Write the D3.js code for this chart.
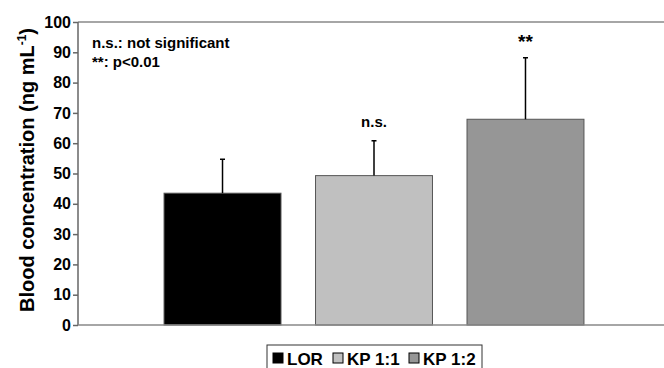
<!DOCTYPE html>
<html>
<head>
<meta charset="utf-8">
<script src="https://cdn.jsdelivr.net/npm/d3@7"></script>
<style>
  body { margin: 0; background: #fff; }
  text { font-family: Arial, "Liberation Sans", sans-serif; font-weight: bold; fill: #000; }
</style>
</head>
<body>
<svg id="chart" width="664" height="368"></svg>
<script>
const groups = ["LOR", "KP 1:1", "KP 1:2"];
const means = [43.5, 49.3, 67.9];
const errors = [11.2, 11.5, 20.3];
const marks = ["", "n.s.", "**"];
const fills = ["#000000", "#c0c0c0", "#969696"];
const yTicks = [0, 10, 20, 30, 40, 50, 60, 70, 80, 90, 100];

const data = groups.map((g, i) => ({name: g, mean: means[i], err: errors[i], mark: marks[i], fill: fills[i]}));

const svg = d3.select("#chart"),
      margin = {top: 22, left: 78},
      plotRight = 670,
      plotBottom = 325;

const x = d3.scaleBand()
    .domain(groups)
    .range([margin.left, plotRight])
    .paddingInner(0.228)
    .paddingOuter(0.568);

const y = d3.scaleLinear().domain([0, 100]).range([plotBottom, margin.top]);

// top border of plot area
svg.append("line")
    .attr("x1", margin.left).attr("x2", plotRight)
    .attr("y1", y(100)).attr("y2", y(100))
    .attr("stroke", "#888").attr("stroke-width", 1.5);

// bars
svg.selectAll(".bar")
    .data(data)
    .enter().append("rect")
    .attr("class", "bar")
    .attr("x", d => x(d.name))
    .attr("y", d => y(d.mean))
    .attr("width", x.bandwidth())
    .attr("height", d => y(0) - y(d.mean))
    .attr("fill", d => d.fill)
    .attr("stroke", "#555")
    .attr("stroke-width", 1);

// error bars (upper only)
const eb = svg.selectAll(".err").data(data).enter().append("g");
eb.append("line")
    .attr("x1", d => x(d.name) + x.bandwidth() / 2)
    .attr("x2", d => x(d.name) + x.bandwidth() / 2)
    .attr("y1", d => y(d.mean))
    .attr("y2", d => y(d.mean + d.err))
    .attr("stroke", "#000").attr("stroke-width", 1.5);
eb.append("line")
    .attr("x1", d => x(d.name) + x.bandwidth() / 2 - 2.5)
    .attr("x2", d => x(d.name) + x.bandwidth() / 2 + 2.5)
    .attr("y1", d => y(d.mean + d.err))
    .attr("y2", d => y(d.mean + d.err))
    .attr("stroke", "#000").attr("stroke-width", 1.5);

// significance marks
svg.selectAll(".mark").data(data).enter().append("text")
    .attr("x", d => x(d.name) + x.bandwidth() / 2)
    .attr("y", d => y(d.mean + d.err) - (d.mark === "**" ? 10 : 14))
    .attr("text-anchor", "middle")
    .style("font-size", d => d.mark === "**" ? "19px" : "15px")
    .text(d => d.mark);

// y axis
const yAxis = svg.append("g")
    .attr("transform", `translate(${margin.left},0)`)
    .call(d3.axisLeft(y).tickValues(yTicks).tickSize(5).tickPadding(2));
yAxis.selectAll("path, line").attr("stroke", "#666").attr("stroke-width", 1.5);
yAxis.select(".domain").attr("d", `M0,${plotBottom}V${margin.top}`);
yAxis.selectAll("text").style("font-size", "16px").style("font-family", "Arial, 'Liberation Sans', sans-serif").style("font-weight", "bold");

// x axis line
svg.append("line")
    .attr("x1", margin.left).attr("x2", plotRight)
    .attr("y1", y(0)).attr("y2", y(0))
    .attr("stroke", "#888").attr("stroke-width", 1.5);

// y axis title
const yt = svg.append("text")
    .attr("transform", `translate(34,170) rotate(-90)`)
    .attr("text-anchor", "middle")
    .style("font-size", "20px");
yt.append("tspan").text("Blood concentration (ng mL");
yt.append("tspan").attr("dy", -8).style("font-size", "12px").text("-1");
yt.append("tspan").attr("dy", 8).text(")");

// notes
svg.append("text").attr("x", 92).attr("y", 48).style("font-size", "15px").text("n.s.: not significant");
svg.append("text").attr("x", 92).attr("y", 67).style("font-size", "15px").text("**: p<0.01");

// legend
const lg = svg.append("g").attr("transform", "translate(267,345)");
lg.append("rect").attr("x", 0).attr("y", 0).attr("width", 215).attr("height", 30)
    .attr("fill", "#fff").attr("stroke", "#333").attr("stroke-width", 1);
const legendX = [6, 66, 142];
const items = lg.selectAll(".li").data(data).enter().append("g")
    .attr("transform", (d, i) => `translate(${legendX[i]},0)`);
items.append("rect").attr("x", 0).attr("y", 8).attr("width", 10).attr("height", 10)
    .attr("fill", d => d.fill).attr("stroke", "#000").attr("stroke-width", 1);
items.append("text").attr("x", 14).attr("y", 20).style("font-size", "17px").text(d => d.name);
</script>
</body>
</html>
